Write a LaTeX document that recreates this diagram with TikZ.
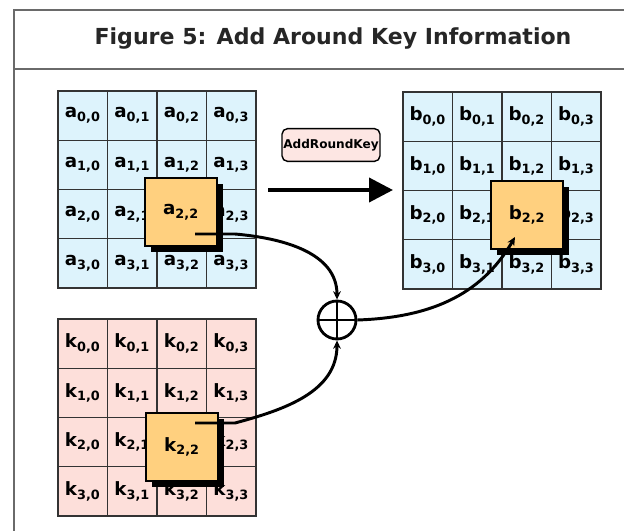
\documentclass[tikz,border=0pt]{standalone}
\usepackage{fontspec}
\setmainfont{DejaVu Sans}
\usetikzlibrary{arrows.meta,shadows}
\definecolor{celeste}{HTML}{DDF3FC}
\definecolor{rosaClave}{HTML}{FDDFDA}
\definecolor{naranjaCaja}{HTML}{FFD07F}
\definecolor{rosaEtq}{HTML}{FDE6E3}
\definecolor{grisMarco}{HTML}{6A6A6A}
\newcommand{\celdaTxt}[3]{#1\textsubscript{#2,#3}}

\begin{document}
\begin{tikzpicture}[x=0.025cm, y=-0.025cm,
      marco/.style={draw=grisMarco, line width=1.4pt},
      titulo/.style={font=\fontsize{15.7}{18}\selectfont\bfseries, text=black!85},
      celda/.style={draw=black!80, line width=0.9pt, inner sep=0pt,
        minimum width=1.2375cm, minimum height=1.23cm,
        font=\fontsize{13}{13}\selectfont\bfseries},
      celdaA/.style={celda, fill=celeste},
      celdaK/.style={celda, fill=rosaClave},
      caja/.style={draw=black, line width=1.3pt, fill=naranjaCaja, inner sep=0pt,
        minimum width=1.8cm, minimum height=1.72cm,
        font=\fontsize{13}{13}\selectfont\bfseries,
        general shadow={fill=black, shadow xshift=4.3pt, shadow yshift=-4.3pt}},
      etqOp/.style={draw=black, line width=1pt, rounded corners=4pt, fill=rosaEtq,
        minimum width=2.45cm, minimum height=0.82cm, inner sep=0pt,
        font=\fontsize{8.6}{9}\selectfont\bfseries},
      flujo/.style={line width=2.1pt, -{Stealth[length=6pt,width=5.5pt]}},
      flechaGruesa/.style={line width=2.8pt, -{Triangle[length=17pt,width=17pt]}},
      xorNodo/.style={circle, draw, line width=2pt, minimum size=0.95cm, inner sep=0pt}
    ]
    \useasboundingbox (0,0) rectangle (624,531);

    % --- marco y titulo ---
    \draw[marco] (624,10) -- (14,10) -- (14,531);
    \draw[marco] (14,69) -- (624,69);
    \node[titulo] (tit) at (333,38) {Figure 5: Add Around Key Information};

    % --- matrices de estado y de clave ---
    \foreach \f in {0,...,3} {
      \foreach \c in {0,...,3} {
        \node[celdaA] (a\f\c) at ({82.75+49.5*\c},{115.6+49.25*\f})
          {\ifnum\f\c=22 \else\celdaTxt{a}{\f}{\c}\fi};
        \node[celdaK] (k\f\c) at ({82.75+49.5*\c},{343.6+49.25*\f})
          {\ifnum\f\c=22 \else\celdaTxt{k}{\f}{\c}\fi};
        \node[celdaA] (b\f\c) at ({427.75+49.5*\c},{116.6+49.25*\f})
          {\ifnum\f\c=22 \else\celdaTxt{b}{\f}{\c}\fi};
      }
    }

    % --- cajas destacadas ---
    \node[caja] (cajaA) at (181,212) {\celdaTxt{a}{2}{2}};
    \node[caja] (cajaK) at (182,447) {\celdaTxt{k}{2}{2}};
    \node[caja] (cajaB) at (527,215) {\celdaTxt{b}{2}{2}};

    % --- operacion ---
    \node[etqOp] (op) at (331,145) {AddRoundKey};
    \coordinate (flechaIni) at (268,190);
    \coordinate (flechaFin) at (393,190);
    \draw[flechaGruesa] (flechaIni) -- (flechaFin);

    % --- suma xor ---
    \node[xorNodo] (xor) at (337,320) {};
    \draw[line width=2pt] (xor.north) -- (xor.south) (xor.west) -- (xor.east);
    \coordinate (aSal) at (195,234);
    \coordinate (kSal) at (195,423);
    \coordinate (bLleg) at (515,237);
    \draw[flujo] (aSal) -- ++(40,0) to[out=-5, in=90] (xor.north);
    \draw[flujo] (kSal) -- ++(40,0) to[out=15, in=-90] (xor.south);
    \draw[flujo] (xor.east) to[out=2, in=-120] (bLleg);
  \end{tikzpicture}
\end{document}
